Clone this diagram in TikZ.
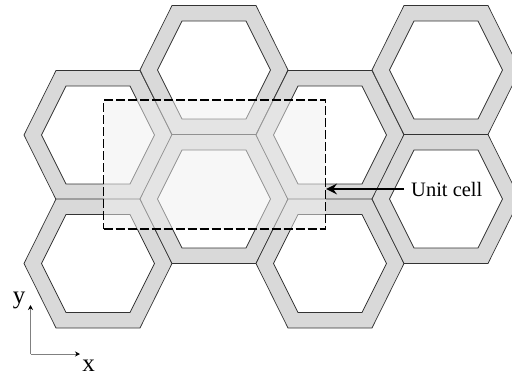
\documentclass[tikz,border=0pt]{standalone}
\usepackage{fontspec}
\setmainfont{Liberation Serif}
\usetikzlibrary{arrows.meta}
\definecolor{wallgray}{HTML}{D9D9D9}
\definecolor{cellgray}{HTML}{EFEFEF}
\definecolor{edgegray}{HTML}{333333}
\definecolor{axisgray}{HTML}{808080}
\tikzset{
  hexwall/.style={draw=edgegray,fill=wallgray,line width=0.7pt,even odd rule},
  unitbox/.style={draw=black,line width=1.2pt,dash pattern=on 9pt off 3pt,fill=cellgray,fill opacity=0.5,minimum width=222pt,minimum height=129pt,inner sep=0pt},
  axisline/.style={draw=axisgray,line width=0.7pt,-{Stealth[black,length=5pt,width=5pt]}},
  pointer/.style={draw=black,line width=1.6pt,-{Stealth[length=11pt,width=11pt,inset=4pt]}}
}
\newcommand{\hexcell}[2]{
\path[hexwall,shift={(#1,#2)}] (-74,0) -- (-42,-64.5) -- (42,-64.5) -- (74,0) -- (42,64.5) -- (-42,64.5) -- cycle
  (-56.5,0) -- (-32,-49) -- (32,-49) -- (56.5,0) -- (32,49) -- (-32,49) -- cycle;
}
\begin{document}
\begin{tikzpicture}[x=1pt,y=-1pt]
\useasboundingbox (0,0) rectangle (512,378);
\foreach \cx/\cy in {98/135,98/263.5,214/70,214/199,330/135,330/263.5,446/70,446/199}{
  \hexcell{\cx}{\cy}
}
\node[unitbox] (unitcell) at (214.5,164.5) {};
\node[font=\fontsize{20.5}{24}\selectfont,anchor=west,inner sep=0pt] (celllabel) at (411,189) {Unit cell};
\coordinate (cellstart) at (404,189);
\coordinate (celltip) at (unitcell.east |- cellstart);
\draw[pointer] (cellstart) -- (celltip);
% axes
\coordinate (origin) at (30.5,354);
\coordinate (yend) at (30.5,305);
\coordinate (xend) at (80,354);
\draw[axisline] (origin) -- (yend);
\draw[axisline] (origin) -- (xend);
\node[font=\fontsize{25}{28}\selectfont,inner sep=0pt] (ylabel) at (19,300.5) {y};
\node[font=\fontsize{25}{28}\selectfont,inner sep=0pt] (xlabel) at (88.5,366) {x};
\end{tikzpicture}
\end{document}
